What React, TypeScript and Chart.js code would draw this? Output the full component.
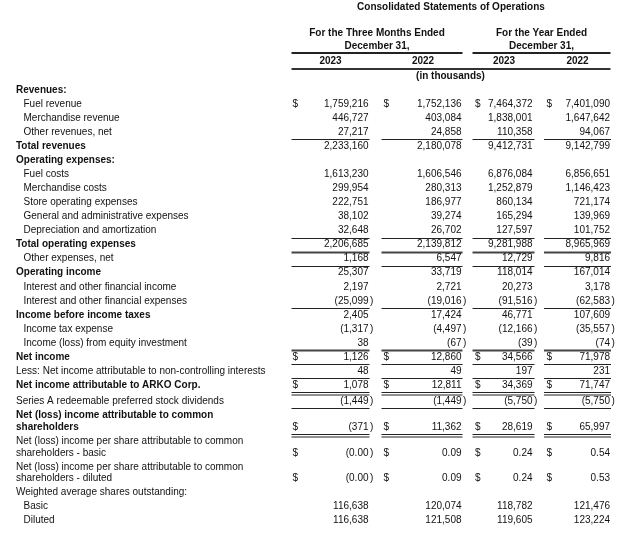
import React, { useEffect, useRef } from "react";
import { Chart, registerables } from "chart.js";

Chart.register(...registerables);

const TITLE = "Consolidated Statements of Operations";
const GROUP_HEADERS = [
  ["For the Three Months Ended", "December 31,"],
  ["For the Year Ended", "December 31,"],
];
const YEARS = ["2023", "2022", "2023", "2022"];
const UNIT_NOTE = "(in thousands)";

const ROW_LABELS = [
  "Revenues:",
  "Fuel revenue",
  "Merchandise revenue",
  "Other revenues, net",
  "Total revenues",
  "Operating expenses:",
  "Fuel costs",
  "Merchandise costs",
  "Store operating expenses",
  "General and administrative expenses",
  "Depreciation and amortization",
  "Total operating expenses",
  "Other expenses, net",
  "Operating income",
  "Interest and other financial income",
  "Interest and other financial expenses",
  "Income before income taxes",
  "Income tax expense",
  "Income (loss) from equity investment",
  "Net income",
  "Less: Net income attributable to non-controlling interests",
  "Net income attributable to ARKO Corp.",
  "Series A redeemable preferred stock dividends",
  "Net (loss) income attributable to common\nshareholders",
  "Net (loss) income per share attributable to common\nshareholders - basic",
  "Net (loss) income per share attributable to common\nshareholders - diluted",
  "Weighted average shares outstanding:",
  "Basic",
  "Diluted",
];

const Q4_2023 = [null, 1759216, 446727, 27217, 2233160, null, 1613230, 299954, 222751, 38102, 32648, 2206685, 1168, 25307, 2197, -25099, 2405, -1317, 38, 1126, 48, 1078, -1449, -371, -0.003, -0.003, null, 116638, 116638];
const Q4_2022 = [null, 1752136, 403084, 24858, 2180078, null, 1606546, 280313, 186977, 39274, 26702, 2139812, 6547, 33719, 2721, -19016, 17424, -4497, -67, 12860, 49, 12811, -1449, 11362, 0.09, 0.09, null, 120074, 121508];
const FY_2023 = [null, 7464372, 1838001, 110358, 9412731, null, 6876084, 1252879, 860134, 165294, 127597, 9281988, 12729, 118014, 20273, -91516, 46771, -12166, -39, 34566, 197, 34369, -5750, 28619, 0.24, 0.24, null, 118782, 119605];
const FY_2022 = [null, 7401090, 1647642, 94067, 9142799, null, 6856651, 1146423, 721174, 139969, 101752, 8965969, 9816, 167014, 3178, -62583, 107609, -35557, -74, 71978, 231, 71747, -5750, 65997, 0.54, 0.53, null, 121476, 123224];

const BOLD_ROWS = [0, 4, 5, 11, 13, 16, 19, 21, 23];
const INDENT_ROWS = [1, 2, 3, 6, 7, 8, 9, 10, 12, 14, 15, 17, 18, 27, 28];
const DOLLAR_ROWS = [1, 19, 21, 23, 24, 25];
const DECIMAL_ROWS = [24, 25];
const RULE_SINGLE = [3, 10, 12, 15, 19, 20, 22];
const RULE_THICK = [11, 18];
const RULE_DOUBLE = [21, 23];

// layout (x in canvas-width units, y in line units)
const COL_RIGHT = [368.5, 461.5, 532.5, 610];
const COL_DOLLAR = [292.5, 383.5, 475, 546.5];
const COL_RULE = [[291.5, 369.5], [381.5, 462.5], [472.5, 534.5], [544, 611]];
const YEAR_CENTER = [330.5, 423, 504, 577.5];
const GROUP_CENTER = [377, 541.5];
const GROUP_RULE = [[291.5, 462.5], [472.5, 610.5]];
const LABEL_X = 16;
const INDENT_X = 23.5;
const WRAP_STEP = 0.82;
const FONT = '"Liberation Sans", Arial, Helvetica, sans-serif';

function withCommas(s: string) {
  return s.replace(/\B(?=(\d{3})+(?!\d))/g, ",");
}
function formatValue(v: number, dec: number) {
  const a = Math.abs(v);
  let s: string;
  if (dec > 0) {
    const f = a.toFixed(dec);
    const [i, d] = f.split(".");
    s = withCommas(i) + "." + d;
  } else {
    s = withCommas(String(Math.round(a)));
  }
  return v < 0 ? { body: "(" + s, close: true } : { body: s, close: false };
}

const tablePlugin = {
  id: "statementTable",
  afterDraw(chart: any) {
    const ctx: CanvasRenderingContext2D = chart.ctx;
    const xs = chart.scales.x;
    const ys = chart.scales.y;
    const X = (v: number) => xs.getPixelForValue(v);
    const Y = (v: number) => ys.getPixelForValue(v);
    const columns = [Q4_2023, Q4_2022, FY_2023, FY_2022];
    const lineStep = Math.abs(Y(1) - Y(0));

    ctx.save();
    ctx.fillStyle = "#111";
    ctx.textBaseline = "middle";

    const line = (x1: number, x2: number, y: number, w: number, color: string) => {
      ctx.beginPath();
      ctx.strokeStyle = color;
      ctx.lineWidth = w;
      ctx.moveTo(X(x1), y);
      ctx.lineTo(X(x2), y);
      ctx.stroke();
    };

    // header
    ctx.font = `bold 10px ${FONT}`;
    ctx.textAlign = "center";
    ctx.fillText(TITLE, X(451), Y(-5.88));
    GROUP_HEADERS.forEach((g, gi) => {
      ctx.fillText(g[0], X(GROUP_CENTER[gi]), Y(-4.02));
      ctx.fillText(g[1], X(GROUP_CENTER[gi]), Y(-3.13));
      line(GROUP_RULE[gi][0], GROUP_RULE[gi][1], Math.round(Y(-2.63)), 2, "#222");
    });
    YEARS.forEach((yr, i) => ctx.fillText(yr, X(YEAR_CENTER[i]), Y(-2.06)));
    line(GROUP_RULE[0][0], GROUP_RULE[1][1], Math.round(Y(-1.52)), 2, "#333");
    ctx.fillText(UNIT_NOTE, X(450.5), Y(-1.0));

    // body rows
    let pos = 0;
    ROW_LABELS.forEach((label, r) => {
      const lines = label.split("\n");
      const bold = BOLD_ROWS.includes(r);
      const indent = INDENT_ROWS.includes(r);
      ctx.font = `${bold ? "bold " : ""}10px ${FONT}`;
      ctx.textAlign = "left";
      let lastPos = pos;
      lines.forEach((t, li) => {
        lastPos = pos + li * (bold ? 0.85 : WRAP_STEP);
        ctx.fillText(t, X(indent ? INDENT_X : LABEL_X), Y(lastPos));
      });
      const yv = Y(lastPos);
      ctx.font = `10px ${FONT}`;
      columns.forEach((col, c) => {
        const v = col[r];
        if (v === null || v === undefined) return;
        if (DOLLAR_ROWS.includes(r)) {
          ctx.textAlign = "left";
          ctx.fillText("$", X(COL_DOLLAR[c]), yv);
        }
        const f = formatValue(v, DECIMAL_ROWS.includes(r) ? 2 : 0);
        ctx.textAlign = "right";
        ctx.fillText(f.body, X(COL_RIGHT[c]), yv);
        if (f.close) {
          ctx.textAlign = "left";
          ctx.fillText(")", X(COL_RIGHT[c]) + 1.5, yv);
        }
        const ry = Math.round(yv + lineStep * 0.5) + 0.5;
        if (RULE_SINGLE.includes(r)) line(COL_RULE[c][0], COL_RULE[c][1], ry, 1, "#222");
        if (RULE_THICK.includes(r)) line(COL_RULE[c][0], COL_RULE[c][1], ry, 2, "#444");
        if (RULE_DOUBLE.includes(r)) {
          line(COL_RULE[c][0], COL_RULE[c][1], ry, 1, "#222");
          line(COL_RULE[c][0], COL_RULE[c][1], ry + 2.5, 1, "#222");
        }
      });
      pos = lastPos + 1 + (r === 21 ? 0.15 : 0);
    });
    ctx.restore();
  },
};

export default function App() {
  const ref = useRef<HTMLCanvasElement | null>(null);
  useEffect(() => {
    if (!ref.current) return;
    const chart = new Chart(ref.current, {
      type: "scatter",
      data: { datasets: [{ data: [], pointRadius: 0 }] },
      options: {
        responsive: false,
        animation: false,
        events: [],
        layout: { padding: 0 },
        plugins: { legend: { display: false }, tooltip: { enabled: false }, title: { display: false } },
        scales: {
          x: { type: "linear", min: 0, max: 640, display: false },
          y: { type: "linear", min: -6.4, max: 32.3, reverse: true, display: false },
        },
      },
      plugins: [tablePlugin],
    });
    return () => chart.destroy();
  }, []);
  return (
    <div style={{ position: "absolute", left: 0, top: 0, width: 640, height: 544, background: "#fff" }}>
      <canvas ref={ref} width={640} height={544} style={{ width: 640, height: 544, display: "block" }} />
    </div>
  );
}
